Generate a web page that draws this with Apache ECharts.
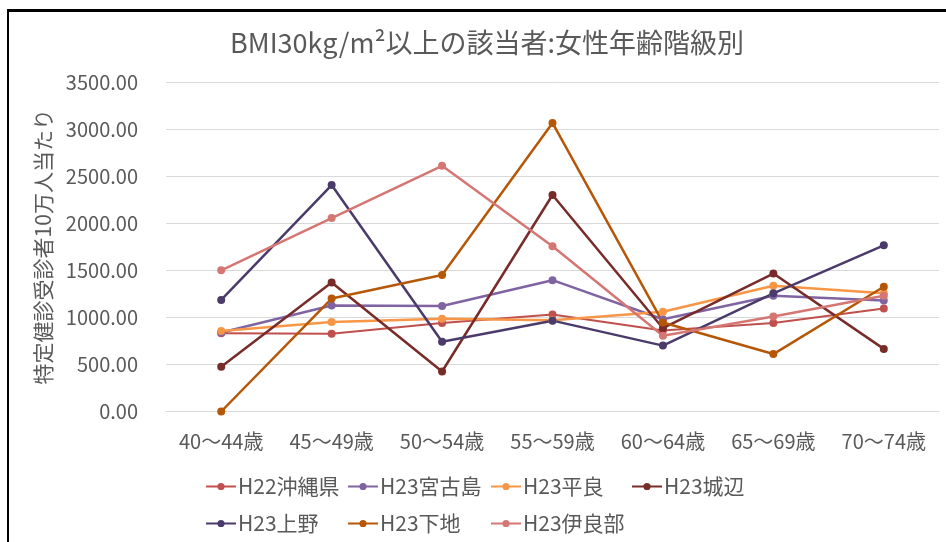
<!DOCTYPE html>
<html>
<head>
<meta charset="utf-8">
<script src="https://cdn.jsdelivr.net/npm/echarts@6/dist/echarts.min.js"></script>
<style>
  html, body { margin: 0; padding: 0; background: #fff; }
  #frame { position: absolute; left: 7px; top: 9px; width: 960px; height: 560px;
           border-left: 2px solid #000; border-top: 3px solid #000; }
  #chart { position: absolute; left: 0; top: 0; width: 946px; height: 542px; }
</style>
</head>
<body>
<div id="frame"></div>
<div id="chart"></div>
<script>
// 年齢階級
const ageGroups = ['40〜44歳', '45〜49歳', '50〜54歳', '55〜59歳', '60〜64歳', '65〜69歳', '70〜74歳'];

// 特定健診受診者10万人当たり
const okinawaH22 = [830, 825, 940, 1030, 860, 940, 1095];
const miyakojimaH23 = [840, 1125, 1120, 1395, 980, 1230, 1180];
const hiraraH23 = [855, 950, 985, 970, 1060, 1335, 1255];
const gusukubeH23 = [475, 1370, 425, 2300, 885, 1465, 665];
const uenoH23 = [1185, 2405, 740, 965, 700, 1255, 1765];
const shimojiH23 = [0, 1200, 1450, 3065, 945, 610, 1325];
const irabuH23 = [1500, 2055, 2610, 1755, 805, 1010, 1230];

const seriesDefs = [
    { name: 'H22沖縄県', data: okinawaH22, color: '#c0504d', width: 2 },
    { name: 'H23宮古島', data: miyakojimaH23, color: '#8064a2', width: 2.5 },
    { name: 'H23平良', data: hiraraH23, color: '#f79646', width: 2.5 },
    { name: 'H23城辺', data: gusukubeH23, color: '#772c2a', width: 2.5 },
    { name: 'H23上野', data: uenoH23, color: '#4b3b6b', width: 2.5 },
    { name: 'H23下地', data: shimojiH23, color: '#b65708', width: 2.5 },
    { name: 'H23伊良部', data: irabuH23, color: '#d57673', width: 2.5 }
];

const FONT = '"Noto Sans CJK JP", "Noto Sans", sans-serif';
const TEXT = '#595959';

// 凡例の位置 (Excel風に2段)
const legendPos = [
    [200, 471], [342, 471], [485, 471], [626, 471],
    [200, 508], [342, 508], [485, 508]
];

const chart = echarts.init(document.getElementById('chart'));
chart.setOption({
    animation: false,
    title: {
        text: 'BMI30kg/m²以上の該当者:女性年齢階級別',
        left: 482, top: 24, textAlign: 'center',
        textStyle: { fontFamily: FONT, fontSize: 27, fontWeight: 'normal', color: TEXT }
    },
    legend: seriesDefs.map((s, i) => ({
        data: [s.name],
        left: legendPos[i][0], top: legendPos[i][1],
        itemWidth: 30, itemHeight: 9,
        textStyle: { fontFamily: FONT, fontSize: 21, color: TEXT, padding: [0, 0, 0, -3] }
    })),
    grid: { left: 166, right: 7, top: 82, bottom: 130.5, containLabel: false },
    xAxis: {
        type: 'category',
        data: ageGroups,
        boundaryGap: true,
        axisLine: { lineStyle: { color: '#d9d9d9', width: 1 } },
        axisTick: { show: false },
        axisLabel: { fontFamily: FONT, fontSize: 20, color: TEXT, margin: 20 }
    },
    yAxis: {
        type: 'value',
        min: 0, max: 3500, interval: 500,
        name: '特定健診受診者10万人当たり',
        nameLocation: 'middle',
        nameGap: 112,
        nameTextStyle: { fontFamily: FONT, fontSize: 21, color: TEXT },
        axisLine: { show: false },
        axisTick: { show: false },
        splitLine: { lineStyle: { color: '#d9d9d9', width: 1 } },
        axisLabel: {
            fontFamily: FONT, fontSize: 20, color: TEXT, margin: 28,
            formatter: v => v.toFixed(2)
        }
    },
    series: seriesDefs.map(s => ({
        name: s.name,
        type: 'line',
        data: s.data,
        symbol: 'circle',
        symbolSize: 8,
        lineStyle: { color: s.color, width: s.width },
        itemStyle: { color: s.color }
    }))
});
</script>
</body>
</html>
